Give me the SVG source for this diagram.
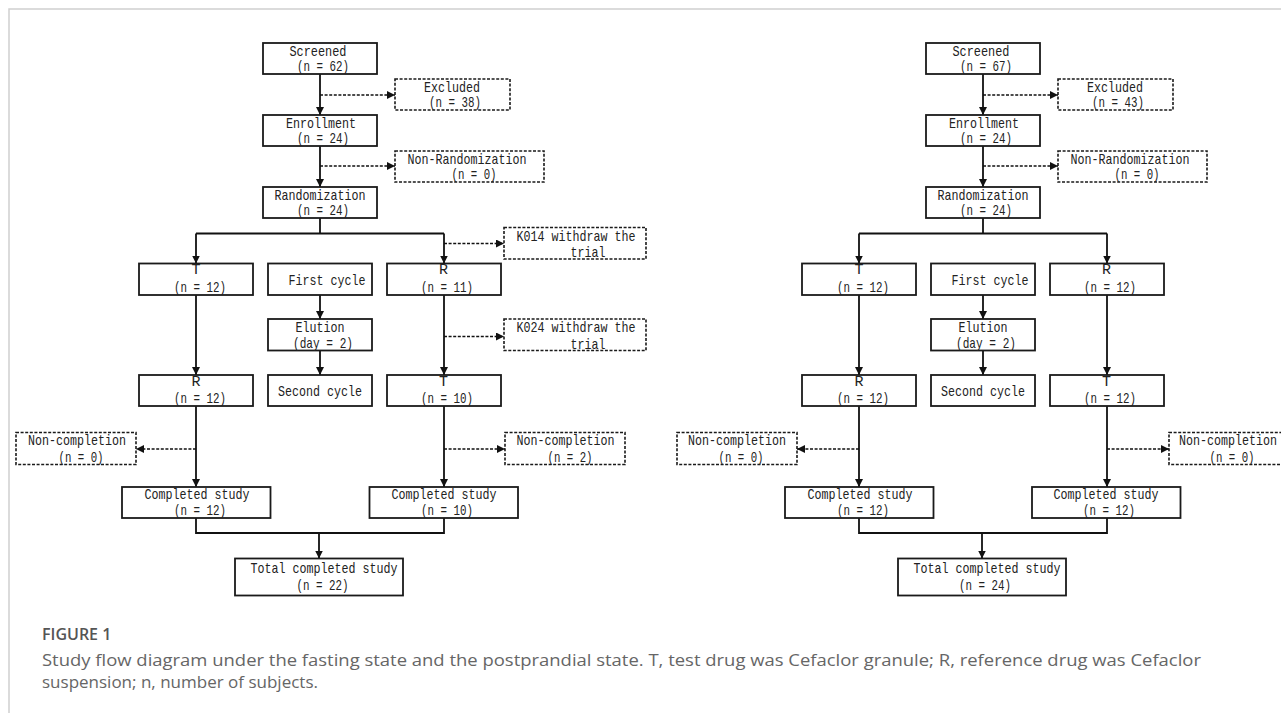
<svg xmlns="http://www.w3.org/2000/svg" width="1281" height="713" viewBox="0 0 1281 713">
<defs>
<marker id="ah" markerUnits="userSpaceOnUse" markerWidth="9" markerHeight="9" refX="8" refY="4" orient="auto">
<path d="M0,0 L8,4 L0,8 Z" fill="#111" stroke="none"/>
</marker>
<style>
.bx{fill:#fff;stroke:#1a1a1a;stroke-width:1.8}
.dbx{fill:#fff;stroke:#1a1a1a;stroke-width:1.6;stroke-dasharray:3,1.6}
.ln{fill:none;stroke:#111;stroke-width:1.8}
.ar{fill:none;stroke:#111;stroke-width:1.8;marker-end:url(#ah)}
.da{fill:none;stroke:#111;stroke-width:1.6;stroke-dasharray:3,1.6;marker-end:url(#ah)}
.t{font-family:"Liberation Mono","DejaVu Sans Mono",monospace;font-size:15px;fill:#222;text-anchor:middle}
.cap{font-family:"Open Sans","Liberation Sans",sans-serif;font-size:17px;fill:#666}
.fig{font-family:"Open Sans","Liberation Sans",sans-serif;font-size:16px;font-weight:600;fill:#555}
</style>
</defs>
<rect width="1281" height="713" fill="#fff"/>
<path d="M9,713 V9 H1281" fill="none" stroke="#d0d0d0" stroke-width="1.5"/>

<g id="connectors">
<!-- left diagram -->
<path class="ar" d="M320,74 V115"/>
<path class="da" d="M320,95 H395"/>
<path class="ar" d="M320,146 V187"/>
<path class="da" d="M320,166 H395"/>
<path class="ln" d="M320,218 V233.5 M196,233.5 H444"/>
<path class="ar" d="M196,233.5 V263.5"/>
<path class="ar" d="M444,233.5 V263.5"/>
<path class="da" d="M444,243.5 H504"/>
<path class="ar" d="M320,295 V319"/>
<path class="ar" d="M320,350.5 V375"/>
<path class="ar" d="M196,295 V375"/>
<path class="ar" d="M444,295 V375"/>
<path class="da" d="M444,336.5 H504"/>
<path class="ar" d="M196,406 V487"/>
<path class="ar" d="M444,406 V487"/>
<path class="da" d="M196,449 H136"/>
<path class="da" d="M444,449 H505"/>
<path class="ln" d="M196,518 V533 H444 V518"/>
<path class="ar" d="M319,533 V558.5"/>
<!-- right diagram -->
<path class="ar" d="M983,74 V115"/>
<path class="da" d="M983,95 H1058"/>
<path class="ar" d="M983,146 V187"/>
<path class="da" d="M983,166 H1058"/>
<path class="ln" d="M983,218 V233.5 M859,233.5 H1107"/>
<path class="ar" d="M859,233.5 V263.5"/>
<path class="ar" d="M1107,233.5 V263.5"/>
<path class="ar" d="M983,295 V319"/>
<path class="ar" d="M983,350.5 V375"/>
<path class="ar" d="M859,295 V375"/>
<path class="ar" d="M1107,295 V375"/>
<path class="ar" d="M859,406 V487"/>
<path class="ar" d="M1107,406 V487"/>
<path class="da" d="M859,449 H797"/>
<path class="da" d="M1107,449 H1169"/>
<path class="ln" d="M859,518 V533 H1107 V518"/>
<path class="ar" d="M982,533 V558.5"/>
</g>

<!-- LEFT DIAGRAM NODES -->
<g id="L-screened"><rect class="bx" x="263" y="43" width="114" height="31"/>
<text class="t" x="318" y="55.5" textLength="57" lengthAdjust="spacingAndGlyphs">Screened</text>
<text class="t" x="323" y="71" textLength="52" lengthAdjust="spacingAndGlyphs">(n = 62)</text></g>
<g id="L-excluded"><rect class="dbx" x="395" y="79" width="115" height="31"/>
<text class="t" x="452" y="91.5" textLength="56" lengthAdjust="spacingAndGlyphs">Excluded</text>
<text class="t" x="455" y="107" textLength="52" lengthAdjust="spacingAndGlyphs">(n = 38)</text></g>
<g id="L-enrollment"><rect class="bx" x="263" y="115" width="114" height="31"/>
<text class="t" x="321" y="127.5" textLength="70" lengthAdjust="spacingAndGlyphs">Enrollment</text>
<text class="t" x="323" y="143" textLength="52" lengthAdjust="spacingAndGlyphs">(n = 24)</text></g>
<g id="L-nonrand"><rect class="dbx" x="395" y="151" width="149" height="31"/>
<text class="t" x="467" y="163.5" textLength="119" lengthAdjust="spacingAndGlyphs">Non-Randomization</text>
<text class="t" x="474" y="179" textLength="45" lengthAdjust="spacingAndGlyphs">(n = 0)</text></g>
<g id="L-random"><rect class="bx" x="263" y="187" width="114" height="31"/>
<text class="t" x="320" y="199.5" textLength="91" lengthAdjust="spacingAndGlyphs">Randomization</text>
<text class="t" x="323" y="215" textLength="52" lengthAdjust="spacingAndGlyphs">(n = 24)</text></g>
<g id="L-T1"><rect class="bx" x="139" y="263.5" width="114" height="31.5"/>
<text class="t" x="196" y="274">T</text>
<text class="t" x="200" y="291.5" textLength="52" lengthAdjust="spacingAndGlyphs">(n = 12)</text></g>
<g id="L-first"><rect class="bx" x="268" y="263.5" width="104" height="31.5"/>
<text class="t" x="327" y="285" textLength="77" lengthAdjust="spacingAndGlyphs">First cycle</text></g>
<g id="L-R1"><rect class="bx" x="387" y="263.5" width="114" height="31.5"/>
<text class="t" x="443.5" y="274">R</text>
<text class="t" x="447" y="291.5" textLength="52" lengthAdjust="spacingAndGlyphs">(n = 11)</text></g>
<g id="L-K014"><rect class="dbx" x="504" y="227.5" width="142" height="31.5"/>
<text class="t" x="576" y="240.5" textLength="119" lengthAdjust="spacingAndGlyphs">K014 withdraw the</text>
<text class="t" x="588" y="257" textLength="35" lengthAdjust="spacingAndGlyphs">trial</text></g>
<g id="L-elution"><rect class="bx" x="268" y="319" width="104" height="31.5"/>
<text class="t" x="320" y="331.5" textLength="49" lengthAdjust="spacingAndGlyphs">Elution</text>
<text class="t" x="323" y="347.5" textLength="60" lengthAdjust="spacingAndGlyphs">(day = 2)</text></g>
<g id="L-K024"><rect class="dbx" x="504" y="319" width="142" height="31.5"/>
<text class="t" x="576" y="332" textLength="119" lengthAdjust="spacingAndGlyphs">K024 withdraw the</text>
<text class="t" x="588" y="348.5" textLength="35" lengthAdjust="spacingAndGlyphs">trial</text></g>
<g id="L-R2"><rect class="bx" x="139" y="375" width="114" height="31"/>
<text class="t" x="196" y="385.5">R</text>
<text class="t" x="200" y="403" textLength="52" lengthAdjust="spacingAndGlyphs">(n = 12)</text></g>
<g id="L-second"><rect class="bx" x="268" y="375" width="104" height="31"/>
<text class="t" x="320" y="396" textLength="84" lengthAdjust="spacingAndGlyphs">Second cycle</text></g>
<g id="L-T2"><rect class="bx" x="387" y="375" width="114" height="31"/>
<text class="t" x="443.5" y="385.5">T</text>
<text class="t" x="447" y="403" textLength="52" lengthAdjust="spacingAndGlyphs">(n = 10)</text></g>
<g id="L-nc1"><rect class="dbx" x="16" y="432.5" width="120" height="32"/>
<text class="t" x="77" y="444.5" textLength="98" lengthAdjust="spacingAndGlyphs">Non-completion</text>
<text class="t" x="81" y="461.5" textLength="45" lengthAdjust="spacingAndGlyphs">(n = 0)</text></g>
<g id="L-nc2"><rect class="dbx" x="505" y="432.5" width="120" height="32"/>
<text class="t" x="565.5" y="444.5" textLength="98" lengthAdjust="spacingAndGlyphs">Non-completion</text>
<text class="t" x="570" y="461.5" textLength="45" lengthAdjust="spacingAndGlyphs">(n = 2)</text></g>
<g id="L-comp1"><rect class="bx" x="122" y="487" width="148.5" height="31"/>
<text class="t" x="197" y="499" textLength="105" lengthAdjust="spacingAndGlyphs">Completed study</text>
<text class="t" x="200" y="515" textLength="52" lengthAdjust="spacingAndGlyphs">(n = 12)</text></g>
<g id="L-comp2"><rect class="bx" x="369.5" y="487" width="148.5" height="31"/>
<text class="t" x="444" y="499" textLength="105" lengthAdjust="spacingAndGlyphs">Completed study</text>
<text class="t" x="447" y="515" textLength="52" lengthAdjust="spacingAndGlyphs">(n = 10)</text></g>
<g id="L-total"><rect class="bx" x="235" y="558.5" width="168" height="37"/>
<text class="t" x="324" y="572.5" textLength="147" lengthAdjust="spacingAndGlyphs">Total completed study</text>
<text class="t" x="322.5" y="589.5" textLength="52" lengthAdjust="spacingAndGlyphs">(n = 22)</text></g>

<!-- RIGHT DIAGRAM NODES -->
<g id="R-screened"><rect class="bx" x="926" y="43" width="114" height="31"/>
<text class="t" x="981" y="55.5" textLength="57" lengthAdjust="spacingAndGlyphs">Screened</text>
<text class="t" x="986" y="71" textLength="52" lengthAdjust="spacingAndGlyphs">(n = 67)</text></g>
<g id="R-excluded"><rect class="dbx" x="1058" y="79" width="115" height="31"/>
<text class="t" x="1115" y="91.5" textLength="56" lengthAdjust="spacingAndGlyphs">Excluded</text>
<text class="t" x="1118" y="107" textLength="52" lengthAdjust="spacingAndGlyphs">(n = 43)</text></g>
<g id="R-enrollment"><rect class="bx" x="926" y="115" width="114" height="31"/>
<text class="t" x="984" y="127.5" textLength="70" lengthAdjust="spacingAndGlyphs">Enrollment</text>
<text class="t" x="986" y="143" textLength="52" lengthAdjust="spacingAndGlyphs">(n = 24)</text></g>
<g id="R-nonrand"><rect class="dbx" x="1058" y="151" width="149" height="31"/>
<text class="t" x="1130" y="163.5" textLength="119" lengthAdjust="spacingAndGlyphs">Non-Randomization</text>
<text class="t" x="1137" y="179" textLength="45" lengthAdjust="spacingAndGlyphs">(n = 0)</text></g>
<g id="R-random"><rect class="bx" x="926" y="187" width="114" height="31"/>
<text class="t" x="983" y="199.5" textLength="91" lengthAdjust="spacingAndGlyphs">Randomization</text>
<text class="t" x="986" y="215" textLength="52" lengthAdjust="spacingAndGlyphs">(n = 24)</text></g>
<g id="R-T1"><rect class="bx" x="802" y="263.5" width="114" height="31.5"/>
<text class="t" x="859" y="274">T</text>
<text class="t" x="863" y="291.5" textLength="52" lengthAdjust="spacingAndGlyphs">(n = 12)</text></g>
<g id="R-first"><rect class="bx" x="931" y="263.5" width="104" height="31.5"/>
<text class="t" x="990" y="285" textLength="77" lengthAdjust="spacingAndGlyphs">First cycle</text></g>
<g id="R-R1"><rect class="bx" x="1050" y="263.5" width="114" height="31.5"/>
<text class="t" x="1106.5" y="274">R</text>
<text class="t" x="1110" y="291.5" textLength="52" lengthAdjust="spacingAndGlyphs">(n = 12)</text></g>
<g id="R-elution"><rect class="bx" x="931" y="319" width="104" height="31.5"/>
<text class="t" x="983" y="331.5" textLength="49" lengthAdjust="spacingAndGlyphs">Elution</text>
<text class="t" x="986" y="347.5" textLength="60" lengthAdjust="spacingAndGlyphs">(day = 2)</text></g>
<g id="R-R2"><rect class="bx" x="802" y="375" width="114" height="31"/>
<text class="t" x="859" y="385.5">R</text>
<text class="t" x="863" y="403" textLength="52" lengthAdjust="spacingAndGlyphs">(n = 12)</text></g>
<g id="R-second"><rect class="bx" x="931" y="375" width="104" height="31"/>
<text class="t" x="983" y="396" textLength="84" lengthAdjust="spacingAndGlyphs">Second cycle</text></g>
<g id="R-T2"><rect class="bx" x="1050" y="375" width="114" height="31"/>
<text class="t" x="1106.5" y="385.5">T</text>
<text class="t" x="1110" y="403" textLength="52" lengthAdjust="spacingAndGlyphs">(n = 12)</text></g>
<g id="R-nc1"><rect class="dbx" x="677" y="432.5" width="120" height="32"/>
<text class="t" x="737" y="444.5" textLength="98" lengthAdjust="spacingAndGlyphs">Non-completion</text>
<text class="t" x="741" y="461.5" textLength="45" lengthAdjust="spacingAndGlyphs">(n = 0)</text></g>
<g id="R-nc2"><rect class="dbx" x="1169" y="432.5" width="120" height="32"/>
<text class="t" x="1228" y="444.5" textLength="98" lengthAdjust="spacingAndGlyphs">Non-completion</text>
<text class="t" x="1232" y="461.5" textLength="45" lengthAdjust="spacingAndGlyphs">(n = 0)</text></g>
<g id="R-comp1"><rect class="bx" x="785" y="487" width="148.5" height="31"/>
<text class="t" x="860" y="499" textLength="105" lengthAdjust="spacingAndGlyphs">Completed study</text>
<text class="t" x="863" y="515" textLength="52" lengthAdjust="spacingAndGlyphs">(n = 12)</text></g>
<g id="R-comp2"><rect class="bx" x="1032" y="487" width="148.5" height="31"/>
<text class="t" x="1106" y="499" textLength="105" lengthAdjust="spacingAndGlyphs">Completed study</text>
<text class="t" x="1109" y="515" textLength="52" lengthAdjust="spacingAndGlyphs">(n = 12)</text></g>
<g id="R-total"><rect class="bx" x="898" y="558.5" width="168" height="37"/>
<text class="t" x="987" y="572.5" textLength="147" lengthAdjust="spacingAndGlyphs">Total completed study</text>
<text class="t" x="985" y="589.5" textLength="52" lengthAdjust="spacingAndGlyphs">(n = 24)</text></g>

<g id="caption">
<text class="fig" x="42" y="640">FIGURE 1</text>
<text class="cap" x="42" y="666" textLength="1159" lengthAdjust="spacingAndGlyphs">Study flow diagram under the fasting state and the postprandial state. T, test drug was Cefaclor granule; R, reference drug was Cefaclor</text>
<text class="cap" x="42" y="688">suspension; n, number of subjects.</text>
</g>
</svg>
